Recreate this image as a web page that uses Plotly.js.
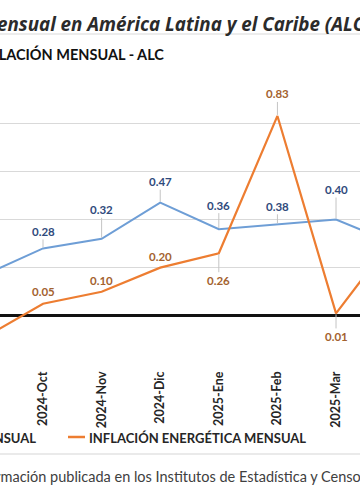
<!DOCTYPE html>
<html>
<head>
<meta charset="utf-8">
<script src="https://cdn.plot.ly/plotly-3.0.1.min.js"></script>
<style>
  html, body { margin: 0; padding: 0; background: #ffffff; overflow: hidden; }
  #chart { width: 360px; height: 504px; }
</style>
</head>
<body>
<div id="chart"></div>
<script>
// ---- data ----
const months = ['2024-Sep', '2024-Oct', '2024-Nov', '2024-Dic', '2025-Ene', '2025-Feb', '2025-Mar', '2025-Apr'];
const inflacionMensual = [0.17, 0.28, 0.32, 0.47, 0.36, 0.38, 0.40, 0.30];
const inflacionEnergetica = [-0.09, 0.05, 0.10, 0.20, 0.26, 0.83, 0.01, 0.33];
const seriesNames = ['INFLACIÓN MENSUAL', 'INFLACIÓN ENERGÉTICA MENSUAL'];
const titleText = 'Inflación mensual en América Latina y el Caribe (ALC)';
const subtitleText = 'INFLACIÓN MENSUAL - ALC';
const sourceText = 'Fuente: Elaboración propia con base en información publicada en los Institutos de Estadística y Censos';

// ---- styles / positions ----
const W = 360, H = 504;
const M = { l: 0, r: 0, t: 75, b: 140 };
const plotH = H - M.t - M.b;
const px2x = p => p / W;
const py2y = p => (H - M.b - p) / plotH;
const BLUE = '#6E9ED6', ORANGE = '#ED7D31';
const BLUE_LBL = '#2F4A7C', ORANGE_LBL = '#A3622F';
const FONT = 'Lato, "Open Sans", sans-serif';
const TITLE_FONT = '"Open Sans", Lato, sans-serif';
const blueDy = [-20, -17, -29, -21, -24, -18, -30, -20];
const orangeDy = [18, -12, -11, -11, 27, -22, 23, -20];

const traces = [
  { x: months, y: inflacionMensual, name: seriesNames[0], type: 'scatter', mode: 'lines',
    line: { color: BLUE, width: 2 }, cliponaxis: true },
  { x: months, y: inflacionEnergetica, name: seriesNames[1], type: 'scatter', mode: 'lines',
    line: { color: ORANGE, width: 2.2 }, cliponaxis: true }
];

const annotations = [];
function addLabels(vals, dys, color) {
  vals.forEach((v, i) => {
    const dy = dys[i];
    annotations.push({
      x: months[i], y: v, xref: 'x', yref: 'y',
      text: v.toFixed(2), showarrow: true, arrowhead: 0, arrowwidth: 1,
      arrowcolor: Math.abs(dy) < 14 ? 'rgba(0,0,0,0)' : '#C4C4C4',
      ax: 0, ay: dy, standoff: 1,
      font: { family: FONT, size: 11.5, color: color, weight: 700 }
    });
  });
}
addLabels(inflacionMensual, blueDy, BLUE_LBL);
addLabels(inflacionEnergetica, orangeDy, ORANGE_LBL);

annotations.push(
  { xref: 'paper', yref: 'paper', x: px2x(373), y: py2y(24), xanchor: 'right', yanchor: 'middle',
    text: '<b><i>' + titleText + '</i></b>', showarrow: false,
    font: { family: TITLE_FONT, size: 18.8, color: '#2B2B2B' } },
  { xref: 'paper', yref: 'paper', x: px2x(166), y: py2y(54), xanchor: 'right', yanchor: 'middle',
    text: '<b>' + subtitleText + '</b>', showarrow: false,
    font: { family: FONT, size: 14.5, color: '#111111' } },
  { xref: 'paper', yref: 'paper', x: px2x(38), y: py2y(438), xanchor: 'right', yanchor: 'middle',
    text: '<b>' + seriesNames[0] + '</b>', showarrow: false,
    font: { family: FONT, size: 13, color: '#262626' } },
  { xref: 'paper', yref: 'paper', x: px2x(87), y: py2y(438), xanchor: 'left', yanchor: 'middle',
    text: '<b>' + seriesNames[1] + '</b>', showarrow: false,
    font: { family: FONT, size: 13, color: '#262626' } },
  { xref: 'paper', yref: 'paper', x: px2x(369), y: py2y(476), xanchor: 'right', yanchor: 'middle',
    text: sourceText, showarrow: false,
    font: { family: FONT, size: 14.5, color: '#404040' } }
);

const shapes = [
  { type: 'line', xref: 'paper', yref: 'paper', x0: 0, x1: 1, y0: py2y(34), y1: py2y(34),
    line: { color: '#D9D9D9', width: 1 } },
  { type: 'line', xref: 'paper', yref: 'paper', x0: 0, x1: 1, y0: py2y(454), y1: py2y(454),
    line: { color: '#E3E3E3', width: 1.5 } },
  { type: 'line', xref: 'paper', yref: 'paper', x0: px2x(-30), x1: px2x(-12), y0: py2y(437), y1: py2y(437),
    line: { color: BLUE, width: 2.5 } },
  { type: 'line', xref: 'paper', yref: 'paper', x0: px2x(68), x1: px2x(85), y0: py2y(437), y1: py2y(437),
    line: { color: ORANGE, width: 2.5 } }
];

const layout = {
  width: W, height: H,
  margin: M,
  paper_bgcolor: '#ffffff', plot_bgcolor: '#ffffff',
  showlegend: false,
  font: { family: FONT },
  xaxis: {
    type: 'category', categoryorder: 'array', categoryarray: months,
    range: [0.266, 6.409], showgrid: false, zeroline: false, showline: false,
    ticks: '', tickangle: -90, ticklabelstandoff: 4,
    tickfont: { family: FONT, size: 12.5, color: '#262626', weight: 700 },
    fixedrange: true
  },
  yaxis: {
    range: [-0.2, 1.0], dtick: 0.2, tick0: 0,
    showgrid: true, gridcolor: '#D9D9D9', gridwidth: 1,
    zeroline: true, zerolinecolor: '#111111', zerolinewidth: 3,
    showticklabels: false, ticks: '', showline: false, fixedrange: true
  },
  annotations: annotations,
  shapes: shapes
};

Plotly.newPlot('chart', traces, layout, { displayModeBar: false, staticPlot: true });
</script>
</body>
</html>
